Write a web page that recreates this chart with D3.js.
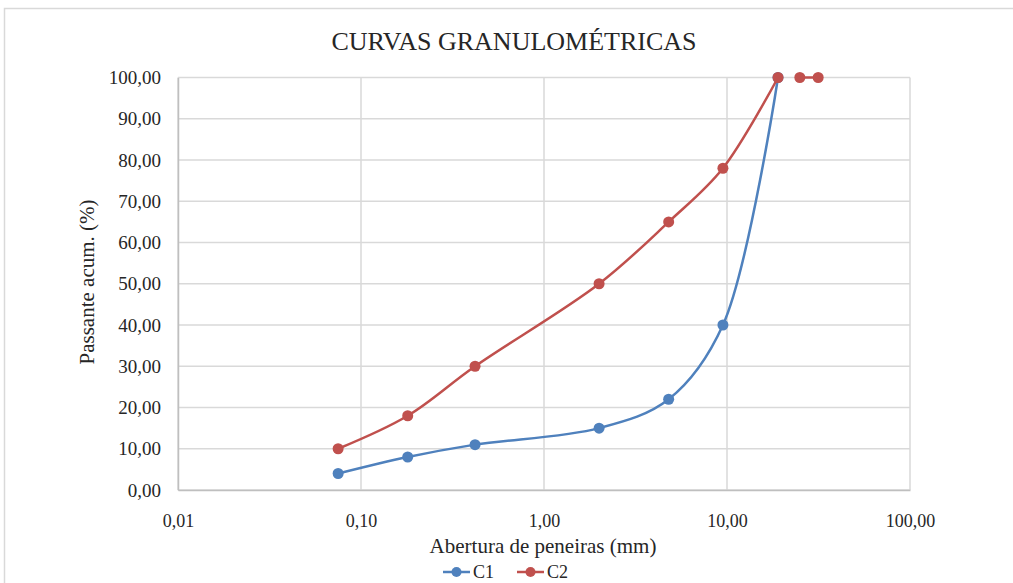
<!DOCTYPE html>
<html>
<head>
<meta charset="utf-8">
<script src="https://cdn.jsdelivr.net/npm/d3@7"></script>
<style>
  html, body { margin: 0; padding: 0; background: #fff; }
  svg { display: block; }
</style>
</head>
<body>
<svg id="chart" width="1013" height="583"></svg>
<script>
// Sieve openings (mm) and cumulative passing (%) for each sample
const sieves = [0.075, 0.18, 0.42, 2.0, 4.8, 9.5, 19, 25, 31.5];
const c1Values = [4, 8, 11, 15, 22, 40, 100, null, null];
const c2Values = [10, 18, 30, 50, 65, 78, 100, 100, 100];
// C2 line is broken before this index (no segment between 19 and 25 mm)
const c2Breaks = [7];
const xTicks = [0.01, 0.1, 1, 10, 100];
const xTickLabels = ["0,01", "0,10", "1,00", "10,00", "100,00"];
const yTicks = [0, 10, 20, 30, 40, 50, 60, 70, 80, 90, 100];
const yTickLabels = ["0,00", "10,00", "20,00", "30,00", "40,00", "50,00", "60,00", "70,00", "80,00", "90,00", "100,00"];
const seriesNames = ["C1", "C2"];
const colors = ["#4F81BD", "#C0504D"];

const FONT = "'Liberation Serif', Tinos, 'Times New Roman', Times, 'DejaVu Serif', 'Noto Serif', serif";
const INK = "#262626";

const svg = d3.select("#chart");
const plot = { left: 178, right: 910, top: 77.5, bottom: 490 };

// outer chart frame (extends past the visible edge)
svg.append("rect")
  .attr("x", 4.5).attr("y", 8.5)
  .attr("width", 1200).attr("height", 800)
  .attr("fill", "#fff").attr("stroke", "#d9d9d9").attr("stroke-width", 1.5);

const x = d3.scaleLog().domain([0.01, 100]).range([plot.left, plot.right]);
const y = d3.scaleLinear().domain([0, 100]).range([plot.bottom, plot.top]);

// gridlines
const grid = svg.append("g").attr("stroke", "#d9d9d9").attr("stroke-width", 1.5);
grid.selectAll("line.h").data(yTicks).join("line")
  .attr("x1", plot.left).attr("x2", plot.right)
  .attr("y1", d => y(d)).attr("y2", d => y(d));
grid.selectAll("line.v").data(xTicks).join("line")
  .attr("x1", d => x(d)).attr("x2", d => x(d))
  .attr("y1", plot.top).attr("y2", plot.bottom);

// y axis
const yAxis = d3.axisLeft(y).tickValues(yTicks)
  .tickFormat((d, i) => yTickLabels[i]).tickSize(0).tickPadding(17);
const gy = svg.append("g").attr("transform", `translate(${plot.left},0)`).call(yAxis)
  .attr("font-family", FONT).attr("font-size", 19);
gy.select(".domain").attr("stroke", "#bfbfbf").attr("stroke-width", 1.5);
gy.selectAll("text").attr("fill", INK);

// x axis
const xAxis = d3.axisBottom(x).tickValues(xTicks)
  .tickFormat((d, i) => xTickLabels[i]).tickSize(0).tickPadding(24);
const gx = svg.append("g").attr("transform", `translate(0,${plot.bottom})`).call(xAxis)
  .attr("font-family", FONT).attr("font-size", 18);
gx.select(".domain").attr("stroke", "#bfbfbf").attr("stroke-width", 1.5);
gx.selectAll("text").attr("fill", INK);

// titles
const txt = svg.append("g").attr("font-family", FONT).attr("fill", INK);
txt.append("text").attr("x", 514).attr("y", 50).attr("text-anchor", "middle")
  .attr("font-size", 26).text("CURVAS GRANULOMÉTRICAS");
txt.append("text").attr("x", 543).attr("y", 553).attr("text-anchor", "middle")
  .attr("font-size", 21).text("Abertura de peneiras (mm)");
txt.append("text").attr("transform", "translate(94,282) rotate(-90)")
  .attr("text-anchor", "middle").attr("font-size", 21).text("Passante acum. (%)");

// series
const line = d3.line().defined(d => d[1] != null)
  .x(d => x(d[0])).y(d => y(d[1]))
  .curve(d3.curveCatmullRom.alpha(0.5));

function segments(values, breaks) {
  const pts = sieves.map((s, i) => [s, values[i]]);
  const cuts = [0, ...breaks, pts.length];
  const out = [];
  for (let k = 0; k < cuts.length - 1; k++) out.push(pts.slice(cuts[k], cuts[k + 1]));
  return out;
}

[[c1Values, []], [c2Values, c2Breaks]].forEach(([vals, brk], si) => {
  const g = svg.append("g");
  segments(vals, brk).forEach(seg => {
    g.append("path").attr("d", line(seg)).attr("fill", "none")
      .attr("stroke", colors[si]).attr("stroke-width", 2.5).attr("stroke-linecap", "round");
  });
  g.selectAll("circle").data(sieves.map((s, i) => [s, vals[i]]).filter(d => d[1] != null))
    .join("circle").attr("cx", d => x(d[0])).attr("cy", d => y(d[1]))
    .attr("r", 5.5).attr("fill", colors[si]);
});

// legend
const legend = svg.append("g").attr("transform", "translate(443,572)")
  .attr("font-family", FONT).attr("font-size", 18);
seriesNames.forEach((name, i) => {
  const lg = legend.append("g").attr("transform", `translate(${i * 74},0)`);
  lg.append("line").attr("x1", 0).attr("x2", 27).attr("y1", 0).attr("y2", 0)
    .attr("stroke", colors[i]).attr("stroke-width", 2.5);
  lg.append("circle").attr("cx", 13.5).attr("cy", 0).attr("r", 5).attr("fill", colors[i]);
  lg.append("text").attr("x", 30).attr("y", 6).attr("fill", INK).text(name);
});
</script>
</body>
</html>
